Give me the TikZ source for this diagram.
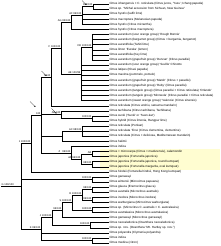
\documentclass[tikz,border=0pt]{standalone}
\usepackage{fontspec}
\setmainfont{Liberation Sans}
\usetikzlibrary{arrows.meta}
\begin{document}
\begin{tikzpicture}[x=1pt,y=1pt,
  leaf/.style={anchor=west,inner sep=0.3pt,font=\fontsize{3}{3.5}\selectfont},
  lab/.style={anchor=south east,inner sep=0.4pt,font=\fontsize{2.6}{3}\selectfont},
  br/.style={line width=0.4pt},
  ptr/.style={line width=0.35pt,-{Stealth[length=1.6pt,width=1.4pt]}}]
\useasboundingbox (0,0) rectangle (220,-246);
\fill[yellow!18] (100,-148.5) rectangle (220,-169.5);
% leaves
\foreach \i/\t in {0/{Citrus ichangensis × C. reticulata (Citrus junos, ‘Yuzu’; Ichang papeda)},
1/{Citrus sp. “Michal accession from Sichuan, New Guinea”},
2/{Citrus hystrix (kaffir lime)},
3/{Citrus macroptera (Melanesian papeda)},
4/{Citrus hystrix (Citrus micrantha)},
5/{Citrus hystrix (Citrus macroptera)},
6/{Citrus aurantium (sour orange group) ‘Rough Bonnie’},
7/{Citrus aurantium (bergamot group) (Citrus × bergamia, bergamot)},
8/{Citrus aurantifolia (Tahiti lime)},
9/{Citrus limon ‘Eureka’ (lemon)},
10/{Citrus aurantifolia (Key lime)},
11/{Citrus aurantium (grapefruit group) ‘Duncan’ (Citrus paradisi)},
12/{Citrus aurantium (sour orange group) ‘Seville’ Chinotto},
13/{Citrus latipes (Khasi papeda)},
14/{Citrus maxima (pummelo, pomelo)},
15/{Citrus aurantium (grapefruit group) ‘Marsh’ (Citrus × paradisi)},
16/{Citrus aurantium (grapefruit group) ‘Ruby’ (Citrus paradisi)},
17/{Citrus aurantium (tangelo group) (Citrus paradisi × Citrus reticulata) ‘Orlando’},
18/{Citrus aurantium (tangelo group) ‘Minneola’ (Citrus paradisi × Citrus reticulata)},
19/{Citrus aurantium (sweet orange group) ‘Valencia’ (Citrus sinensis)},
20/{Citrus reticulata (Citrus unshiu, satsuma mandarin)},
21/{Citrus tachibana (Citrus tachibana, Tachibana)},
22/{Citrus sunki (‘Sunki’ or ‘Suen-kat’)},
23/{Citrus hybrid (Citrus limonia, Rangpur lime)},
24/{Citrus reticulata (Ponkan)},
25/{Citrus reticulata ‘Fina’ (Citrus clementina, clementine)},
26/{Citrus reticulata (Citrus × deliciosa, Mediterranean mandarin)},
27/{Citrus halimii},
28/{Citrus indica},
29/{Citrus × microcarpa (Citrus × madurensis), calamondin},
30/{Citrus japonica (Fortunella japonica)},
31/{Citrus japonica (Fortunella japonica, round kumquat)},
32/{Citrus japonica (Fortunella margarita, oval kumquat)},
33/{Citrus hindsii (Fortunella hindsii, Hong Kong kumquat)},
34/{Citrus garrawayi},
35/{Citrus wintersii (Microcitrus papuana)},
36/{Citrus glauca (Eremocitrus glauca)},
37/{Citrus australis (Microcitrus australis)},
38/{Citrus inodora (Microcitrus inodora)},
39/{Citrus warburgiana (Microcitrus warburgiana)},
40/{Citrus sp. (Microcitrus C. australis × C. australasica)},
41/{Citrus australasica (Microcitrus australasica)},
42/{Citrus garrawayi (Microcitrus garrawayi)},
43/{Citrus neocaledonica (Oxanthera neocaledonica)},
44/{Citrus sp. nov. (Oxanthera “Mt. Hartley sp. nov.”)},
45/{Citrus polyandra (Clymenia polyandra)},
46/{Citrus indica},
47/{Citrus medica (citron)}}
{\node[leaf] (l\i) at (109,{-(4+5.085*\i)}) {\t};}
% top clade
\coordinate (na) at (93,-6.55);
\draw[br] (na) |- (l0.west); \draw[br] (na) |- (l1.west);
\node[lab] at (na) {100/100};
\coordinate (AF) at (82,-15.4);
\draw[br] (AF) |- (na); \foreach \i in {2,3,4} \draw[br] (AF) |- (l\i.west);
\node[lab] at (AF) {AF\ 99/100};
\coordinate (AG) at (71,-22.4);
\draw[br] (AG) |- (AF); \draw[br] (AG) |- (l5.west);
\node[lab] at (AG) {AG\ 95/100};
\coordinate (DD) at (92,-47.2);
\foreach \i in {6,...,11} \draw[br] (DD) |- (l\i.west);
\node[lab] at (DD) {DD\ 100/100};
\coordinate (AE) at (81,-73.9);
\draw[br] (AE) |- (DD); \foreach \i in {12,...,19} \draw[br] (AE) |- (l\i.west);
\node[lab] at (AE) {AE\ 100/99};
\coordinate (F) at (61,-48.2);
\draw[br] (F) |- (AG); \draw[br] (F) |- (AE);
\node[lab] at (F) {F\ 100/100};
\coordinate (T) at (51,-77);
\draw[br] (T) |- (F); \draw[br] (T) |- (l20.west);
\node[lab] at (T) {T\ 100};
% middle
\coordinate (nb) at (92,-118.5);
\draw[br] (nb) |- (l22.west); \draw[br] (nb) |- (l23.west);
\node[lab] at (nb) {100/100};
\coordinate (V) at (61,-114.6);
\draw[br] (V) |- (l21.west); \draw[br] (V) |- (nb);
\node[lab] at (V) {AB\ 100};
\coordinate (AC) at (82,-131.1);
\foreach \i in {24,25,26} \draw[br] (AC) |- (l\i.west);
\node[lab] at (AC) {AC\ 98/100};
\coordinate (P) at (62,-136.2);
\draw[br] (P) |- (AC); \draw[br] (P) |- (l27.west);
\coordinate (AB) at (92,-154);
\draw[br] (AB) |- (l29.west); \draw[br] (AB) |- (l30.west);
\node[lab] at (AB) {AB};
\coordinate (nc) at (92,-164.2);
\draw[br] (nc) |- (l31.west); \draw[br] (nc) |- (l32.west);
\node[lab] at (nc) {98/100};
\coordinate (AA) at (81,-159.1);
\draw[br] (AA) |- (AB); \draw[br] (AA) |- (nc);
\node[lab] at (AA) {AA\ 96/100};
\coordinate (Z) at (71,-152.8);
\draw[br] (Z) |- (l28.west); \draw[br] (Z) |- (AA);
\node[lab] at (Z) {Z\ \ \ 99/100};
\coordinate (N) at (41,-115);
\draw[br] (N) |- (T); \draw[br] (N) |- (V); \draw[br] (N) |- (P); \draw[br] (N) |- (Z);
\node[lab] at (N) {100};
\coordinate (W) at (31,-143.4);
\draw[br] (W) |- (N); \draw[br] (W) |- (l33.west);
\node[lab] at (W) {1\ 100/100};
\coordinate (nd) at (92,-179.4);
\draw[br] (nd) |- (l34.west); \draw[br] (nd) |- (l35.west);
\node[lab] at (nd) {100/100};
% bottom clade
\coordinate (r1) at (92,-189.6);
\draw[br] (r1) |- (l36.west); \draw[br] (r1) |- (l37.west);
\node[lab] at (r1) {98/100};
\coordinate (r2) at (92,-199.8);
\draw[br] (r2) |- (l38.west); \draw[br] (r2) |- (l39.west);
\node[lab] at (r2) {99/100};
\coordinate (R) at (82,-194.7);
\draw[br] (R) |- (r1); \draw[br] (R) |- (r2);
\node[lab] at (R) {R\ 100/100};
\coordinate (r3) at (92,-210);
\draw[br] (r3) |- (l40.west); \draw[br] (r3) |- (l41.west);
\node[lab] at (r3) {100/100};
\coordinate (S) at (72,-202.3);
\draw[br] (S) |- (R); \draw[br] (S) |- (r3);
\node[lab] at (S) {S\ 100/100};
\coordinate (r4) at (62,-210);
\draw[br] (r4) |- (S); \draw[br] (r4) |- (l42.west);
\node[lab] at (r4) {96/100};
\coordinate (r5) at (90,-225.2);
\draw[br] (r5) |- (l43.west); \draw[br] (r5) |- (l44.west);
\node[lab] at (r5) {100/100};
\coordinate (J) at (52,-217.6);
\draw[br] (J) |- (r4); \draw[br] (J) |- (r5);
\node[lab] at (J) {J\ 100/100};
\coordinate (r6) at (92,-240.5);
\draw[br] (r6) |- (l46.west); \draw[br] (r6) |- (l47.west);
\node[lab] at (r6) {100/100};
\coordinate (K) at (41,-229);
\draw[br] (K) |- (J); \draw[br] (K) |- (l45.west); \draw[br] (K) |- (r6);
\node[lab] at (K) {K\ 99/100};
\coordinate (G) at (21,-186.2);
\draw[br] (G) |- (W); \draw[br] (G) |- (nd); \draw[br] (G) |- (K);
\coordinate (root) at (1,-186.2);
\draw[br] (root) -- (G);
\node[lab,anchor=south west] at (root) {G\ 100/100};
% pointer arrows
\coordinate (p1s) at (82,-0.5); \coordinate (p1e) at (86.5,-5);
\draw[ptr] (p1s) -- (p1e);
\coordinate (p2s) at (41.5,-71); \coordinate (p2e) at (46.5,-76);
\draw[ptr] (p2s) -- (p2e);
\coordinate (p3s) at (30,-101.5); \coordinate (p3e) at (35.5,-107);
\draw[ptr] (p3s) -- (p3e);
\coordinate (p4s) at (51.5,-108.5); \coordinate (p4e) at (56.5,-113.5);
\draw[ptr] (p4s) -- (p4e);
\end{tikzpicture}
\end{document}
